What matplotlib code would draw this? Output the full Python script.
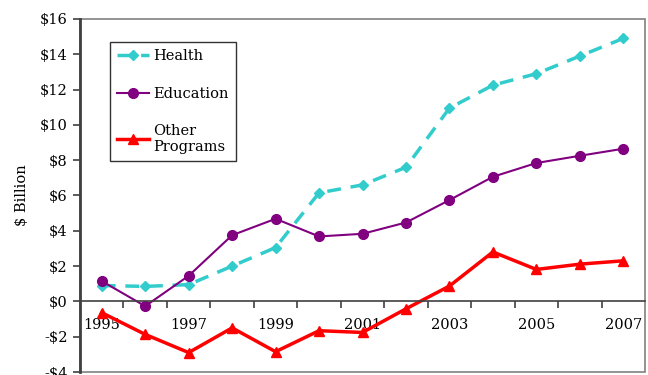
import matplotlib
matplotlib.use("Agg")
import matplotlib.pyplot as plt
from matplotlib.patches import Rectangle
import numpy as np

years = [1995, 1996, 1997, 1998, 1999, 2000, 2001, 2002, 2003, 2004, 2005, 2006, 2007]
health = [0.9, 0.85, 0.95, 2.0, 3.05, 6.15, 6.6, 7.6, 10.95, 12.25, 12.9, 13.9, 14.9]
education = [1.15, -0.27, 1.45, 3.75, 4.68, 3.68, 3.83, 4.47, 5.74, 7.06, 7.84, 8.25, 8.65]
other = [-0.64, -1.87, -2.9, -1.5, -2.85, -1.66, -1.76, -0.42, 0.87, 2.8, 1.81, 2.11, 2.3]
yticks = [-4, -2, 0, 2, 4, 6, 8, 10, 12, 14, 16]
ytick_labels = ["-$4", "-$2", "$0", "$2", "$4", "$6", "$8", "$10", "$12", "$14", "$16"]

plt.rcParams['font.family'] = ['DejaVu Serif']
plt.rcParams['font.size'] = 10.5

fig = plt.figure(figsize=(6.48, 3.75), dpi=100)
ax = fig.add_axes([80/648, 3/375, 565/648, 353/375])

x = np.arange(len(years))
ax.plot(x, health, color='#33CCCC', lw=2.5, ls=(0, (4, 2.8)), marker='D', ms=5.5, label='Health')
ax.plot(x, education, color='#800080', lw=1.5, marker='o', ms=7, label='Education')
ax.plot(x, other, color='#FF0000', lw=2.5, marker='^', ms=7, label='Other\nPrograms')

ax.set_xlim(-0.5, len(years) - 0.5)
ax.set_ylim(-4, 16)
ax.set_yticks(yticks)
ax.set_yticklabels(ytick_labels)
ax.tick_params(axis='y', direction='out', length=5, width=1.2, color='#404040', pad=4)

ax.set_xticks(x[::2])
ax.set_xticklabels([str(y) for y in years[::2]])
ax.set_xticks(np.arange(len(years) - 1) + 0.5, minor=True)
ax.tick_params(axis='x', which='major', length=0, pad=12)
ax.tick_params(axis='x', which='minor', direction='out', length=5, width=1.2, color='#404040')

for s in ['top', 'right']:
    ax.spines[s].set_visible(False)
ax.spines['bottom'].set_position(('data', 0))
ax.spines['bottom'].set_color('#404040')
ax.spines['bottom'].set_linewidth(1.2)
ax.spines['left'].set_color('#404040')
ax.spines['left'].set_linewidth(2)

frame = Rectangle((0, 0), 1, 1, transform=ax.transAxes, fill=False, ec='#808080', lw=1.2, clip_on=False, zorder=0)
ax.add_patch(frame)

ax.set_ylabel('$ Billion', fontsize=10.5, labelpad=8)

leg = ax.legend(loc='upper left', bbox_to_anchor=(30/565, 1 - 23/353), borderaxespad=0, frameon=True,
                fancybox=False, edgecolor='black', labelspacing=1.6, handlelength=2.2, borderpad=0.5,
                handletextpad=0.25)
leg.get_frame().set_linewidth(1.0)

fig.savefig('out.png', dpi=100)
